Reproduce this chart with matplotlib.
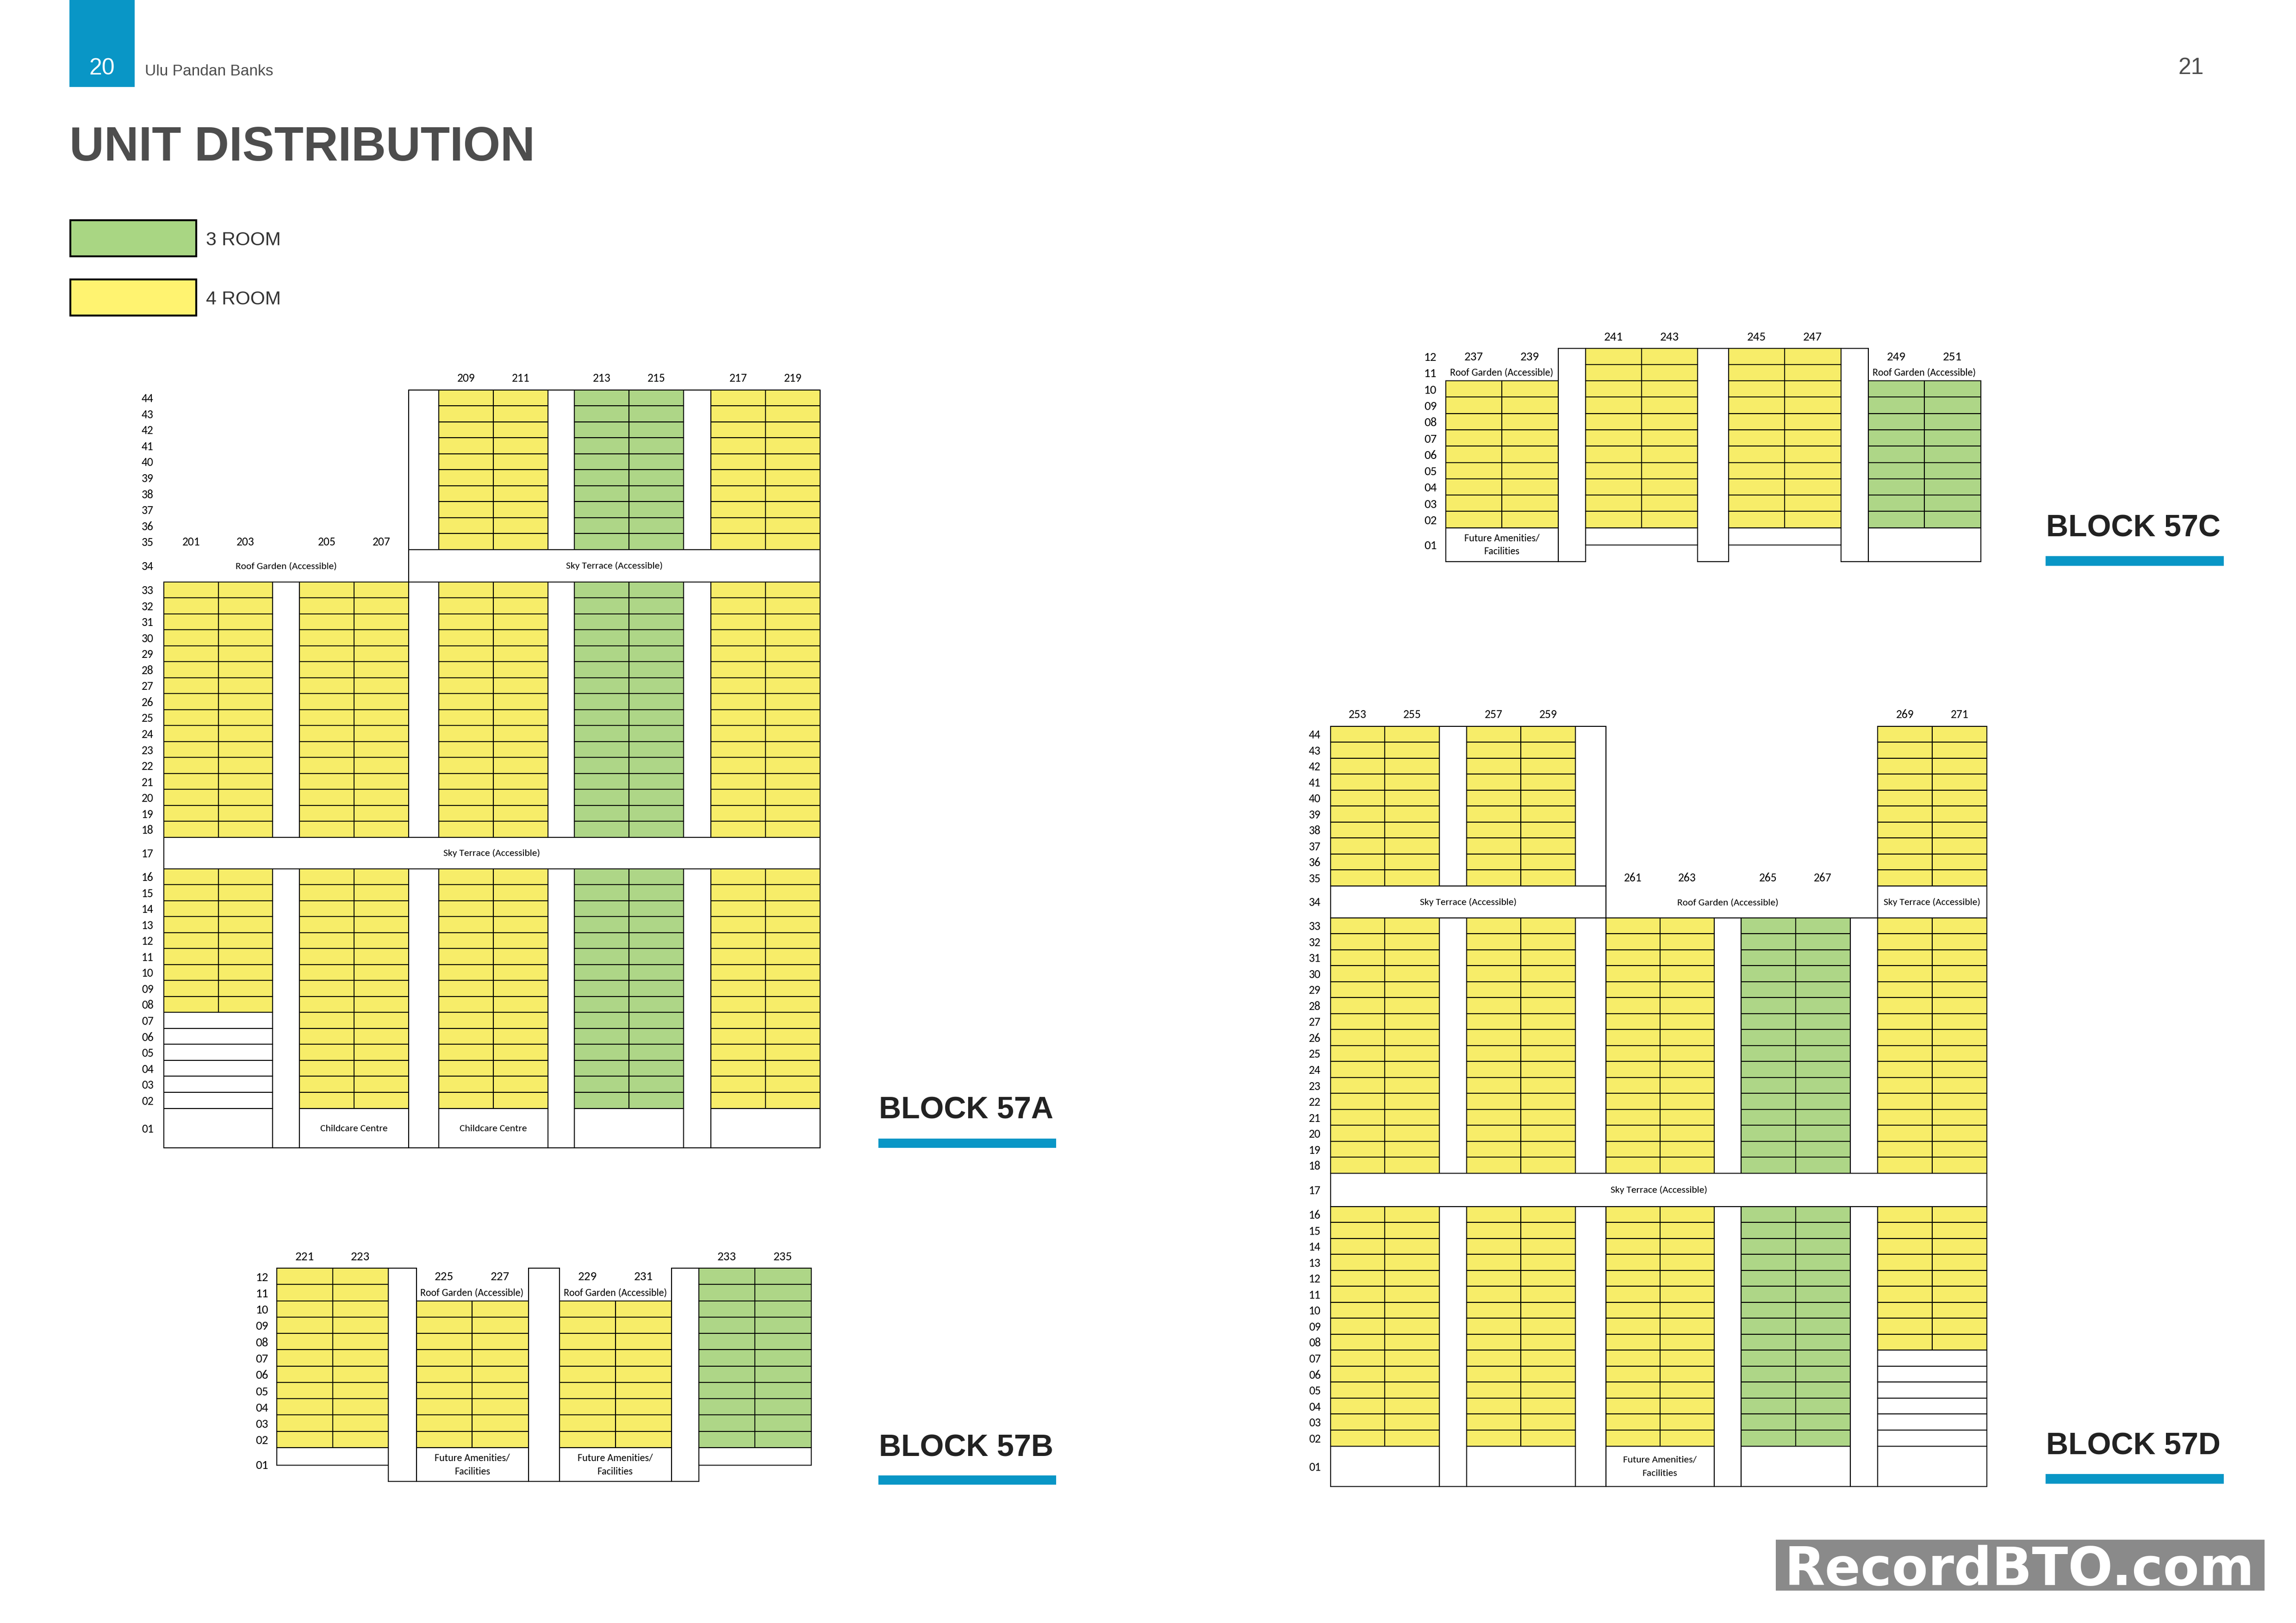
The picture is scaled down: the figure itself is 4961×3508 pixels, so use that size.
import logging
import matplotlib
matplotlib.use("Agg")
import matplotlib.pyplot as plt
from matplotlib.patches import Rectangle
logging.getLogger("matplotlib.font_manager").setLevel(logging.ERROR)

# ---------- data ----------
ROOM_TYPES = ["3 ROOM", "4 ROOM"]
BLOCK_NAMES = ["BLOCK 57A", "BLOCK 57B", "BLOCK 57C", "BLOCK 57D"]

A_FLOORS_TOP, B_FLOORS_TOP, C_FLOORS_TOP, D_FLOORS_TOP = 44, 12, 12, 44
A_UNITS = [["201", "203"], ["205", "207"], ["209", "211"], ["213", "215"], ["217", "219"]]
A_TYPES = ["4 ROOM", "4 ROOM", "4 ROOM", "3 ROOM", "4 ROOM"]
A_HIGHEST = [33, 33, 44, 44, 44]
A_LOWEST = [8, 2, 2, 2, 2]
A_GROUND = ["", "Childcare Centre", "Childcare Centre", "", ""]

B_UNITS = [["221", "223"], ["225", "227"], ["229", "231"], ["233", "235"]]
B_TYPES = ["4 ROOM", "4 ROOM", "4 ROOM", "3 ROOM"]
B_HIGHEST = [12, 10, 10, 12]
B_LOWEST = [2, 2, 2, 2]
B_GROUND = ["", "Future Amenities/\nFacilities", "Future Amenities/\nFacilities", ""]

C_UNITS = [["237", "239"], ["241", "243"], ["245", "247"], ["249", "251"]]
C_TYPES = ["4 ROOM", "4 ROOM", "4 ROOM", "3 ROOM"]
C_HIGHEST = [10, 12, 12, 10]
C_LOWEST = [2, 2, 2, 2]
C_GROUND = ["Future Amenities/\nFacilities", "", "", ""]

D_UNITS = [["253", "255"], ["257", "259"], ["261", "263"], ["265", "267"], ["269", "271"]]
D_TYPES = ["4 ROOM", "4 ROOM", "4 ROOM", "3 ROOM", "4 ROOM"]
D_HIGHEST = [44, 44, 33, 33, 44]
D_LOWEST = [2, 2, 2, 2, 8]
D_GROUND = ["", "", "Future Amenities/\nFacilities", "", ""]

ROOF = "Roof Garden (Accessible)"
SKY = "Sky Terrace (Accessible)"

# ---------- style and layout ----------
W, H = 4961, 3508
GREEN, YELLOW = "#aed687", "#f7ed69"
LEG_GREEN, LEG_YELLOW = "#a9d683", "#fff370"
BLUE = "#0996c6"
FILL = {"3 ROOM": GREEN, "4 ROOM": YELLOW}
NARROW = ["Carlito", "Liberation Sans", "DejaVu Sans"]
HELV = ["Liberation Sans", "DejaVu Sans"]
LW = 1.5
PX = 72 / 100

fig = plt.figure(figsize=(W / 100, H / 100), dpi=100, facecolor="white")
ax = fig.add_axes([0, 0, 1, 1])
ax.set_xlim(0, W)
ax.set_ylim(H, 0)
ax.axis("off")


def box(x0, y0, x1, y1, fc="none", ec="black", lw=LW, z=2):
    ax.add_patch(Rectangle((x0, y0), x1 - x0, y1 - y0, facecolor=fc, edgecolor=ec,
                           linewidth=lw, zorder=z))


def label(x, yc, s, px, family=NARROW, color="black", weight="normal", ha="center", k=0.31):
    """Text whose capitals/digits are vertically centred on yc; px = font size in pixels."""
    ax.text(x, yc + k * px, s, fontsize=px * PX, family=family, color=color,
            weight=weight, ha=ha, va="baseline", zorder=5)


def make_rows(segments):
    rows = {}
    for floors, y0, y1 in segments:
        n = len(floors)
        for i, f in enumerate(floors):
            rows[f] = (y0 + (y1 - y0) * i / n, y0 + (y1 - y0) * (i + 1) / n)
    return rows


def rng(a, b):
    return list(range(a, b - 1, -1))


def draw_block(rows, edges, units, types, highest, lowest, ground, gaps, bands, top_floor,
               floor_x, fs_floor, fs_unit, fs_note, short_y=None, ground_kind=None):
    top_y = rows[top_floor][0]
    ground_y0 = rows[1][0]
    ground_long = rows[1][1]
    for i, (x0, xm, x1) in enumerate(edges):
        for f in sorted(rows, reverse=True):
            if f == 1 or f > highest[i] or any(f == b[2] for b in bands):
                continue
            y0, y1 = rows[f]
            if f >= lowest[i]:
                box(x0, y0, xm, y1, FILL[types[i]])
                box(xm, y0, x1, y1, FILL[types[i]])
            else:
                box(x0, y0, x1, y1, "white")
        yb = ground_long if not ground_kind or ground_kind[i] == "long" else short_y
        box(x0, ground_y0, x1, yb, "white")
        if ground[i]:
            parts = ground[i].split("\n")
            if len(parts) == 2:
                label((x0 + x1) / 2, (ground_y0 + yb) / 2 - 14.5, parts[0], fs_note)
                label((x0 + x1) / 2, (ground_y0 + yb) / 2 + 14.5, parts[1], fs_note)
            else:
                label((x0 + x1) / 2, (ground_y0 + yb) / 2, ground[i], fs_note)
        if highest[i] == top_floor:
            yl = top_y - 25
        else:
            yl = sum(rows[highest[i] + 2]) / 2
        label((x0 + xm) / 2, yl, units[i][0], fs_unit)
        label((xm + x1) / 2, yl, units[i][1], fs_unit)
    for (x0, x1, floors) in gaps:
        for fa, fb in floors:
            box(x0, rows[fa][0], x1, rows[fb][1], "none")
    for (x0, x1, f, txt, bordered, xc) in bands:
        y0, y1 = rows[f]
        if bordered:
            box(x0, y0, x1, y1, "white")
        label(xc, (y0 + y1) / 2, txt, fs_note)
    for f, (y0, y1) in rows.items():
        label(floor_x, (y0 + y1) / 2, f"{f:02d}", fs_floor, k=0.37)


# Block 57A
A_rows = make_rows([(rng(44, 35), 842.5, 1188), ([34], 1188, 1257.5), (rng(33, 18), 1257.5, 1810),
                    ([17], 1810, 1877.5), (rng(16, 2), 1877.5, 2395.5), ([1], 2395.5, 2481)])
A_edges = [(354, 471.5, 589), (647, 765, 883), (948, 1066, 1184), (1241, 1359, 1477), (1536, 1654, 1772)]
A_full = [(44, 35), (33, 18), (16, 1)]
A_low = [(33, 18), (16, 1)]
A_gaps = [(589, 647, A_low), (883, 948, A_full), (1184, 1241, A_full), (1477, 1536, A_full)]
A_bands = [(883, 1772, 34, SKY, True, 1327.5), (354, 883, 34, ROOF, False, 618.5),
           (354, 1772, 17, SKY, True, 1063)]
draw_block(A_rows, A_edges, A_UNITS, A_TYPES, A_HIGHEST, A_LOWEST, A_GROUND, A_gaps, A_bands,
           A_FLOORS_TOP, 319, 25.5, 25.5, 21.5)

# Block 57B
B_rows = make_rows([(rng(12, 2), 2741, 3129), ([1], 3129, 3202)])
B_edges = [(597.5, 718.5, 839), (899.5, 1020, 1141.5), (1208.5, 1330, 1450.5), (1510, 1631, 1752.5)]
B_all = [(12, 1)]
B_gaps = [(839, 899.5, B_all), (1141.5, 1208.5, B_all), (1450.5, 1510, B_all)]
draw_block(B_rows, B_edges, B_UNITS, B_TYPES, B_HIGHEST, B_LOWEST, B_GROUND, B_gaps, [],
           B_FLOORS_TOP, 566, 27, 27, 22, short_y=3167, ground_kind=["short", "long", "long", "short"])
for xc in (1020, 1330):
    label(xc, sum(B_rows[11]) / 2, ROOF, 22)

# Block 57C
C_rows = make_rows([(rng(12, 2), 752.5, 1140.7), ([1], 1140.7, 1213.6)])
C_edges = [(3123.5, 3245, 3366.5), (3425.5, 3546.5, 3667.5), (3735, 3856, 3977.5), (4036.5, 4158, 4279.5)]
C_all = [(12, 1)]
C_gaps = [(3366.5, 3425.5, C_all), (3667.5, 3735, C_all), (3977.5, 4036.5, C_all)]
draw_block(C_rows, C_edges, C_UNITS, C_TYPES, C_HIGHEST, C_LOWEST, C_GROUND, C_gaps, [],
           C_FLOORS_TOP, 3090.5, 27, 27, 22, short_y=1178, ground_kind=["long", "short", "short", "long"])
for xc in (3245, 4158):
    label(xc, sum(C_rows[11]) / 2, ROOF, 22)

# Block 57D
D_rows = make_rows([(rng(44, 35), 1569.5, 1914.5), ([34], 1914.5, 1983.5), (rng(33, 18), 1983.5, 2536),
                    ([17], 2536, 2607.5), (rng(16, 2), 2607.5, 3125.5), ([1], 3125.5, 3213)])
D_edges = [(2874.5, 2992, 3110), (3168.5, 3286, 3404), (3469.5, 3587, 3704), (3762, 3879.5, 3998), (4057, 4174.5, 4293)]
D_full = [(44, 35), (33, 18), (16, 1)]
D_low = [(33, 18), (16, 1)]
D_gaps = [(3110, 3168.5, D_full), (3404, 3469.5, D_full), (3704, 3762, D_low), (3998, 4057, D_low)]
D_bands = [(2874.5, 3469.5, 34, SKY, True, 3172), (3469.5, 4057, 34, ROOF, False, 3733.5),
           (4057, 4293, 34, SKY, True, 4175), (2874.5, 4293, 17, SKY, True, 3584)]
draw_block(D_rows, D_edges, D_UNITS, D_TYPES, D_HIGHEST, D_LOWEST, D_GROUND, D_gaps, D_bands,
           D_FLOORS_TOP, 2841, 25.5, 25.5, 21.5)

# Header
box(150, -5, 291, 188, BLUE, "none", 0)
label(220, 143.5, "20", 50, family=HELV, color="white", k=0.35)
label(313, 151.5, "Ulu Pandan Banks", 33.5, family=HELV, color="#4d4d4d", ha="left", k=0.35)
label(4734, 142.5, "21", 50, family=HELV, color="#4d4d4d", k=0.35)
ax.text(150, 347, "UNIT DISTRIBUTION", fontsize=103.5 * PX, family=HELV, weight="bold",
        color="#4d4d4d", ha="left", va="baseline", zorder=5)

# Legend
box(152, 476, 424, 554, LEG_GREEN, "black", 3)
box(152, 604, 424, 682, LEG_YELLOW, "black", 3)
label(445, 516, ROOM_TYPES[0], 41, family=HELV, color="#333333", ha="left", k=0.35)
label(445, 644, ROOM_TYPES[1], 41, family=HELV, color="#333333", ha="left", k=0.35)

# Block captions
for name, x, base, bx0, bx1, by0, by1 in [
    (BLOCK_NAMES[0], 1899, 2418, 1898, 2282, 2460.5, 2480.5),
    (BLOCK_NAMES[1], 1899, 3147, 1898, 2282, 3189, 3208.5),
    (BLOCK_NAMES[2], 4421, 1160, 4420, 4805, 1202, 1222.5),
    (BLOCK_NAMES[3], 4421, 3144, 4420, 4805, 3186, 3206.5),
]:
    ax.text(x, base, name, fontsize=66.5 * PX, family=HELV, weight="bold", color="#222222",
            ha="left", va="baseline", zorder=5)
    box(bx0, by0, bx1, by1, BLUE, "none", 0)

# Watermark
box(3837, 3328, 4892.5, 3438, "#8a8a8a", "none", 0)
ax.text(3855, 3426, "RecordBTO.com", fontsize=114 * PX, family="DejaVu Sans", weight="bold",
        color="white", ha="left", va="baseline", zorder=5)

fig.savefig("out.png", dpi=100, facecolor="white")
